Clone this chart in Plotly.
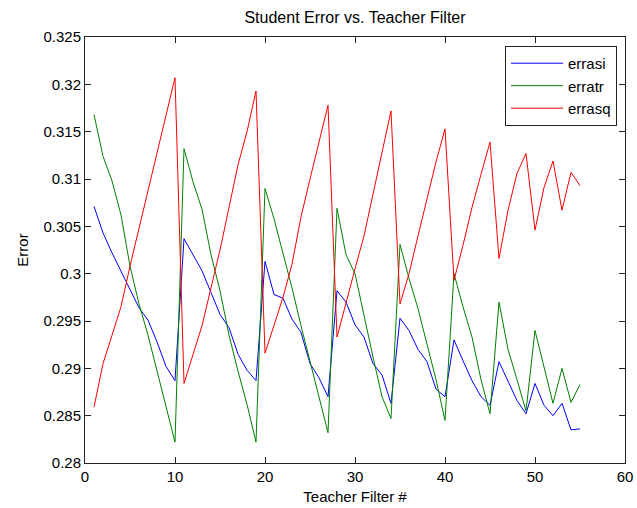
import plotly.graph_objects as go

x = list(range(1, 56))

errasi = [0.3071, 0.3043, 0.3022, 0.3003, 0.2984, 0.2964, 0.2951, 0.2928, 0.2902, 0.2887,
          0.3037, 0.3020, 0.3003, 0.2980, 0.2957, 0.2943, 0.2915, 0.2898, 0.2887,
          0.3013, 0.2978, 0.2974, 0.2952, 0.2938, 0.2905, 0.2890, 0.2870,
          0.2982, 0.2970, 0.2946, 0.2933, 0.2905, 0.2893, 0.2863,
          0.2953, 0.2940, 0.2920, 0.2907, 0.2878, 0.2870,
          0.2930, 0.2908, 0.2887, 0.2870, 0.2861,
          0.2907, 0.2887, 0.2866, 0.2852,
          0.2884, 0.2861, 0.2850,
          0.2863, 0.2835,
          0.2836]

erratr = [0.3168, 0.3124, 0.3098, 0.3062, 0.3008, 0.2968, 0.2935, 0.2898, 0.2858, 0.2822,
          0.3132, 0.3097, 0.3068, 0.3020, 0.2982, 0.2935, 0.2897, 0.2862, 0.2822,
          0.3090, 0.3058, 0.3022, 0.2985, 0.2945, 0.2908, 0.2872, 0.2832,
          0.3069, 0.3020, 0.3000, 0.2955, 0.2912, 0.2870, 0.2847,
          0.3031, 0.2995, 0.2963, 0.2926, 0.2888, 0.2845,
          0.3000, 0.2965, 0.2933, 0.2888, 0.2852,
          0.2970, 0.2920, 0.2888, 0.2855,
          0.2940, 0.2900, 0.2863,
          0.2900, 0.2864,
          0.2883]

errasq = [0.2859, 0.2905, 0.2935, 0.2965, 0.3008, 0.3048, 0.3090, 0.3130, 0.3168, 0.3207,
          0.2884, 0.2915, 0.2945, 0.2985, 0.3025, 0.3070, 0.3115, 0.3150, 0.3193,
          0.2916, 0.2945, 0.2975, 0.3010, 0.3060, 0.3100, 0.3140, 0.3178,
          0.2933, 0.2970, 0.3005, 0.3040, 0.3085, 0.3130, 0.3172,
          0.2968, 0.3000, 0.3040, 0.3080, 0.3118, 0.3153,
          0.2993, 0.3030, 0.3070, 0.3105, 0.3139,
          0.3016, 0.3067, 0.3106, 0.3127,
          0.3046, 0.3091, 0.3119,
          0.3067, 0.3107,
          0.3093]

x_ticks = [0, 10, 20, 30, 40, 50, 60]
y_ticks = [0.28, 0.285, 0.29, 0.295, 0.3, 0.305, 0.31, 0.315, 0.32, 0.325]
y_tick_labels = ["0.28", "0.285", "0.29", "0.295", "0.3", "0.305", "0.31", "0.315", "0.32", "0.325"]

font_family = "Liberation Sans, Arial, sans-serif"

fig = go.Figure()
fig.add_trace(go.Scatter(x=x, y=errasi, mode="lines", name="errasi",
                         line=dict(color="rgb(0,0,255)", width=1)))
fig.add_trace(go.Scatter(x=x, y=erratr, mode="lines", name="erratr",
                         line=dict(color="rgb(0,128,0)", width=1)))
fig.add_trace(go.Scatter(x=x, y=errasq, mode="lines", name="errasq",
                         line=dict(color="rgb(255,0,0)", width=1)))

axis_common = dict(
    showgrid=False, zeroline=False, showline=True, linecolor="#222", linewidth=1,
    mirror="ticks", ticks="inside", ticklen=6, tickcolor="#222",
    tickfont=dict(family=font_family, size=15, color="black"),
    automargin=False,
)

fig.update_layout(
    width=637, height=508,
    margin=dict(l=85, r=12, t=37, b=45),
    paper_bgcolor="white", plot_bgcolor="white",
    font=dict(family=font_family, size=15, color="black"),
    title=dict(text="Student Error vs. Teacher Filter", xref="paper", x=0.5, xanchor="center",
               yref="container", y=1 - 17 / 508, yanchor="middle",
               font=dict(size=16, family=font_family)),
    xaxis=dict(range=[0, 60], tickvals=x_ticks,
               title=dict(text="Teacher Filter #", standoff=7, font=dict(size=15)),
               **axis_common),
    yaxis=dict(range=[0.28, 0.325], tickvals=y_ticks, ticktext=y_tick_labels,
               title=dict(text="Error", standoff=11, font=dict(size=15)),
               **axis_common),
    legend=dict(x=0.9852, y=0.979, xanchor="right", yanchor="top",
                bgcolor="white", bordercolor="#222", borderwidth=1,
                font=dict(family=font_family, size=15), itemwidth=52,
                tracegroupgap=0),
    showlegend=True,
)

fig.write_html("out.html", config={"displayModeBar": False},
               post_script="document.body.style.margin='0px';")
